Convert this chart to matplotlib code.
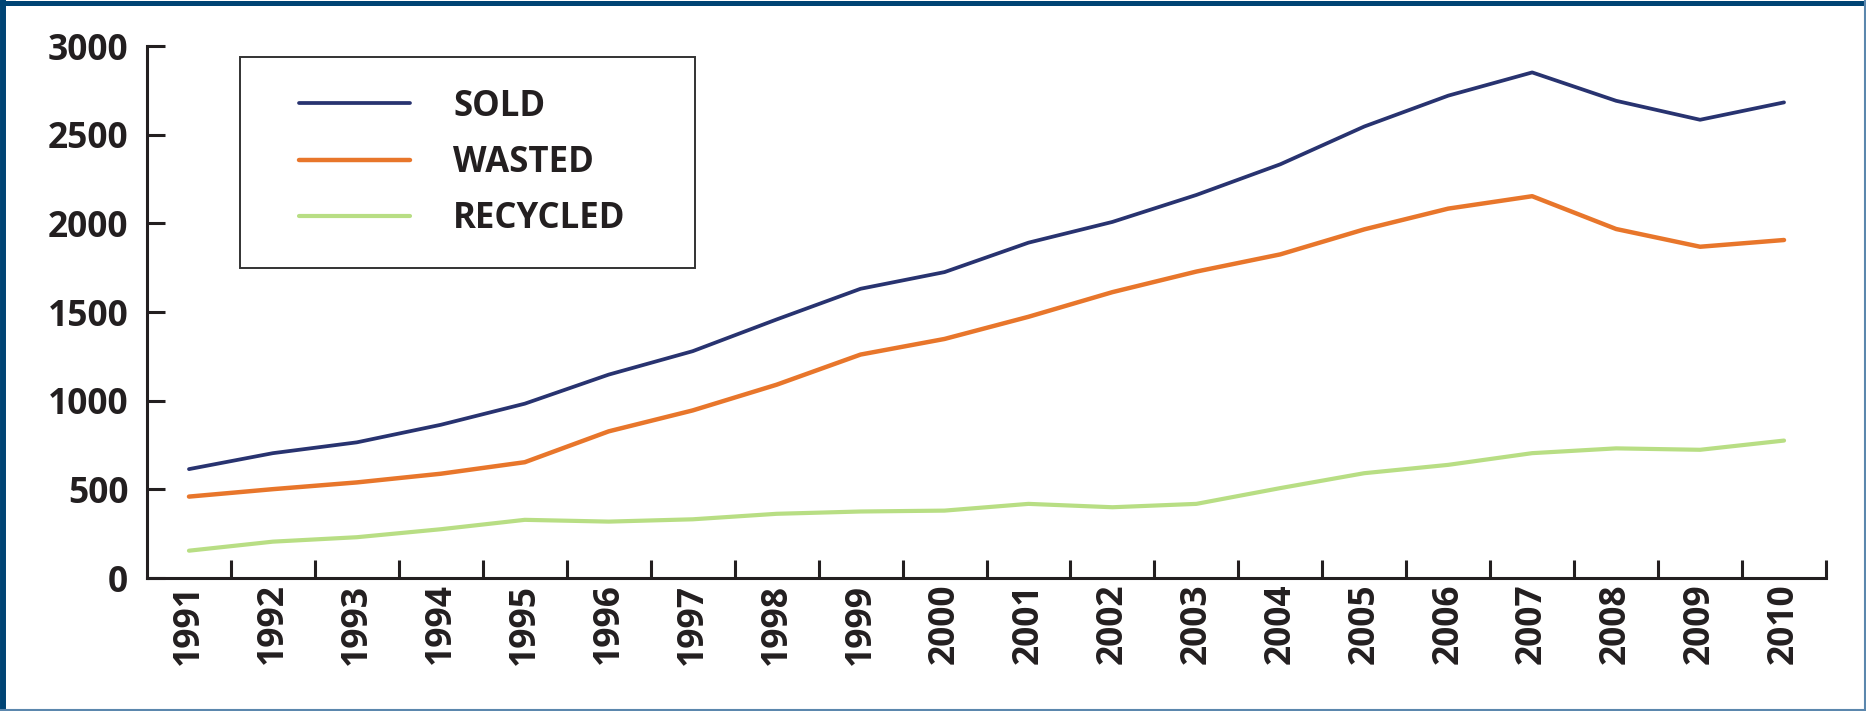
import matplotlib.pyplot as plt
from matplotlib.patches import Rectangle
from matplotlib.lines import Line2D

# donnees
years = [str(y) for y in range(1991, 2011)]
sold = [614, 704, 765, 864, 983, 1147, 1279, 1458, 1631, 1725,
        1891, 2008, 2160, 2333, 2546, 2720, 2851, 2691, 2584, 2682]
wasted = [459, 501, 539, 588, 653, 827, 945, 1090, 1260, 1348,
          1473, 1612, 1728, 1825, 1966, 2083, 2153, 1968, 1868, 1906]
recycled = [154, 205, 230, 275, 328, 318, 331, 362, 375, 380,
            418, 399, 418, 507, 591, 638, 704, 731, 723, 775]
series_labels = ['SOLD', 'WASTED', 'RECYCLED']
y_ticks = [0, 500, 1000, 1500, 2000, 2500, 3000]

plt.rcParams['font.family'] = ['Open Sans', 'DejaVu Sans']
txt = '#231f20'
fs = 25.5

fig = plt.figure(figsize=(18.66, 7.11), dpi=100)
ax = fig.add_axes([147 / 1866, 1 - 578 / 711, 1679 / 1866, 532 / 711])

x = list(range(len(years)))
ax.plot(x, sold, color='#283370', lw=2.7, label=series_labels[0], solid_capstyle='round')
ax.plot(x, wasted, color='#e8762b', lw=3.2, label=series_labels[1], solid_capstyle='round')
ax.plot(x, recycled, color='#b8de84', lw=3.0, label=series_labels[2], solid_capstyle='round')

ax.set_xlim(-0.5, len(years) - 0.5)
ax.set_ylim(0, 3000)

# ticks aux limites des categories, etiquettes au centre
ax.set_xticks([i + 0.5 for i in x])
ax.set_xticklabels([])
ax.set_xticks(x, minor=True)
ax.set_xticklabels(years, minor=True, rotation=90, fontsize=fs, fontweight='bold', color=txt)
ax.tick_params(axis='x', which='major', direction='in', length=13, width=2.2, color=txt)
ax.tick_params(axis='x', which='minor', length=0, pad=4)

ax.set_yticks(y_ticks)
ax.set_yticklabels([str(v) for v in y_ticks], fontsize=fs, fontweight='bold', color=txt)
ax.tick_params(axis='y', direction='in', length=13, width=2.2, color=txt, pad=13.5)

for s in ['top', 'right']:
    ax.spines[s].set_visible(False)
for s in ['left', 'bottom']:
    ax.spines[s].set_linewidth(2.2)
    ax.spines[s].set_color(txt)

# legende + cadre
leg = ax.legend(loc='upper left', bbox_to_anchor=(0.0905, 0.920), frameon=False,
                borderpad=0, borderaxespad=0, handlelength=3.2, handletextpad=1.24,
                labelspacing=0.58, prop={'size': fs - 0.5, 'weight': 'bold'})
for t in leg.get_texts():
    t.set_color(txt)
ax.add_patch(Rectangle((0.0554, 0.583), 0.271, 0.396, transform=ax.transAxes,
                       fill=False, edgecolor='#333333', lw=1.4, zorder=5))

# bordure bleue autour de l'image
fig.add_artist(Line2D([0, 1], [1 - 2.5 / 711, 1 - 2.5 / 711], color='#004474', lw=3.6))
fig.add_artist(Line2D([3 / 1866, 3 / 1866], [0, 1], color='#004474', lw=4.3))
fig.add_artist(Line2D([0, 1], [1.5 / 711, 1.5 / 711], color='#5b87ad', lw=1.5))
fig.add_artist(Line2D([1 - 1.5 / 1866, 1 - 1.5 / 1866], [0, 1], color='#5b87ad', lw=1.5))

fig.savefig('out.png', dpi=100)
plt.close()
